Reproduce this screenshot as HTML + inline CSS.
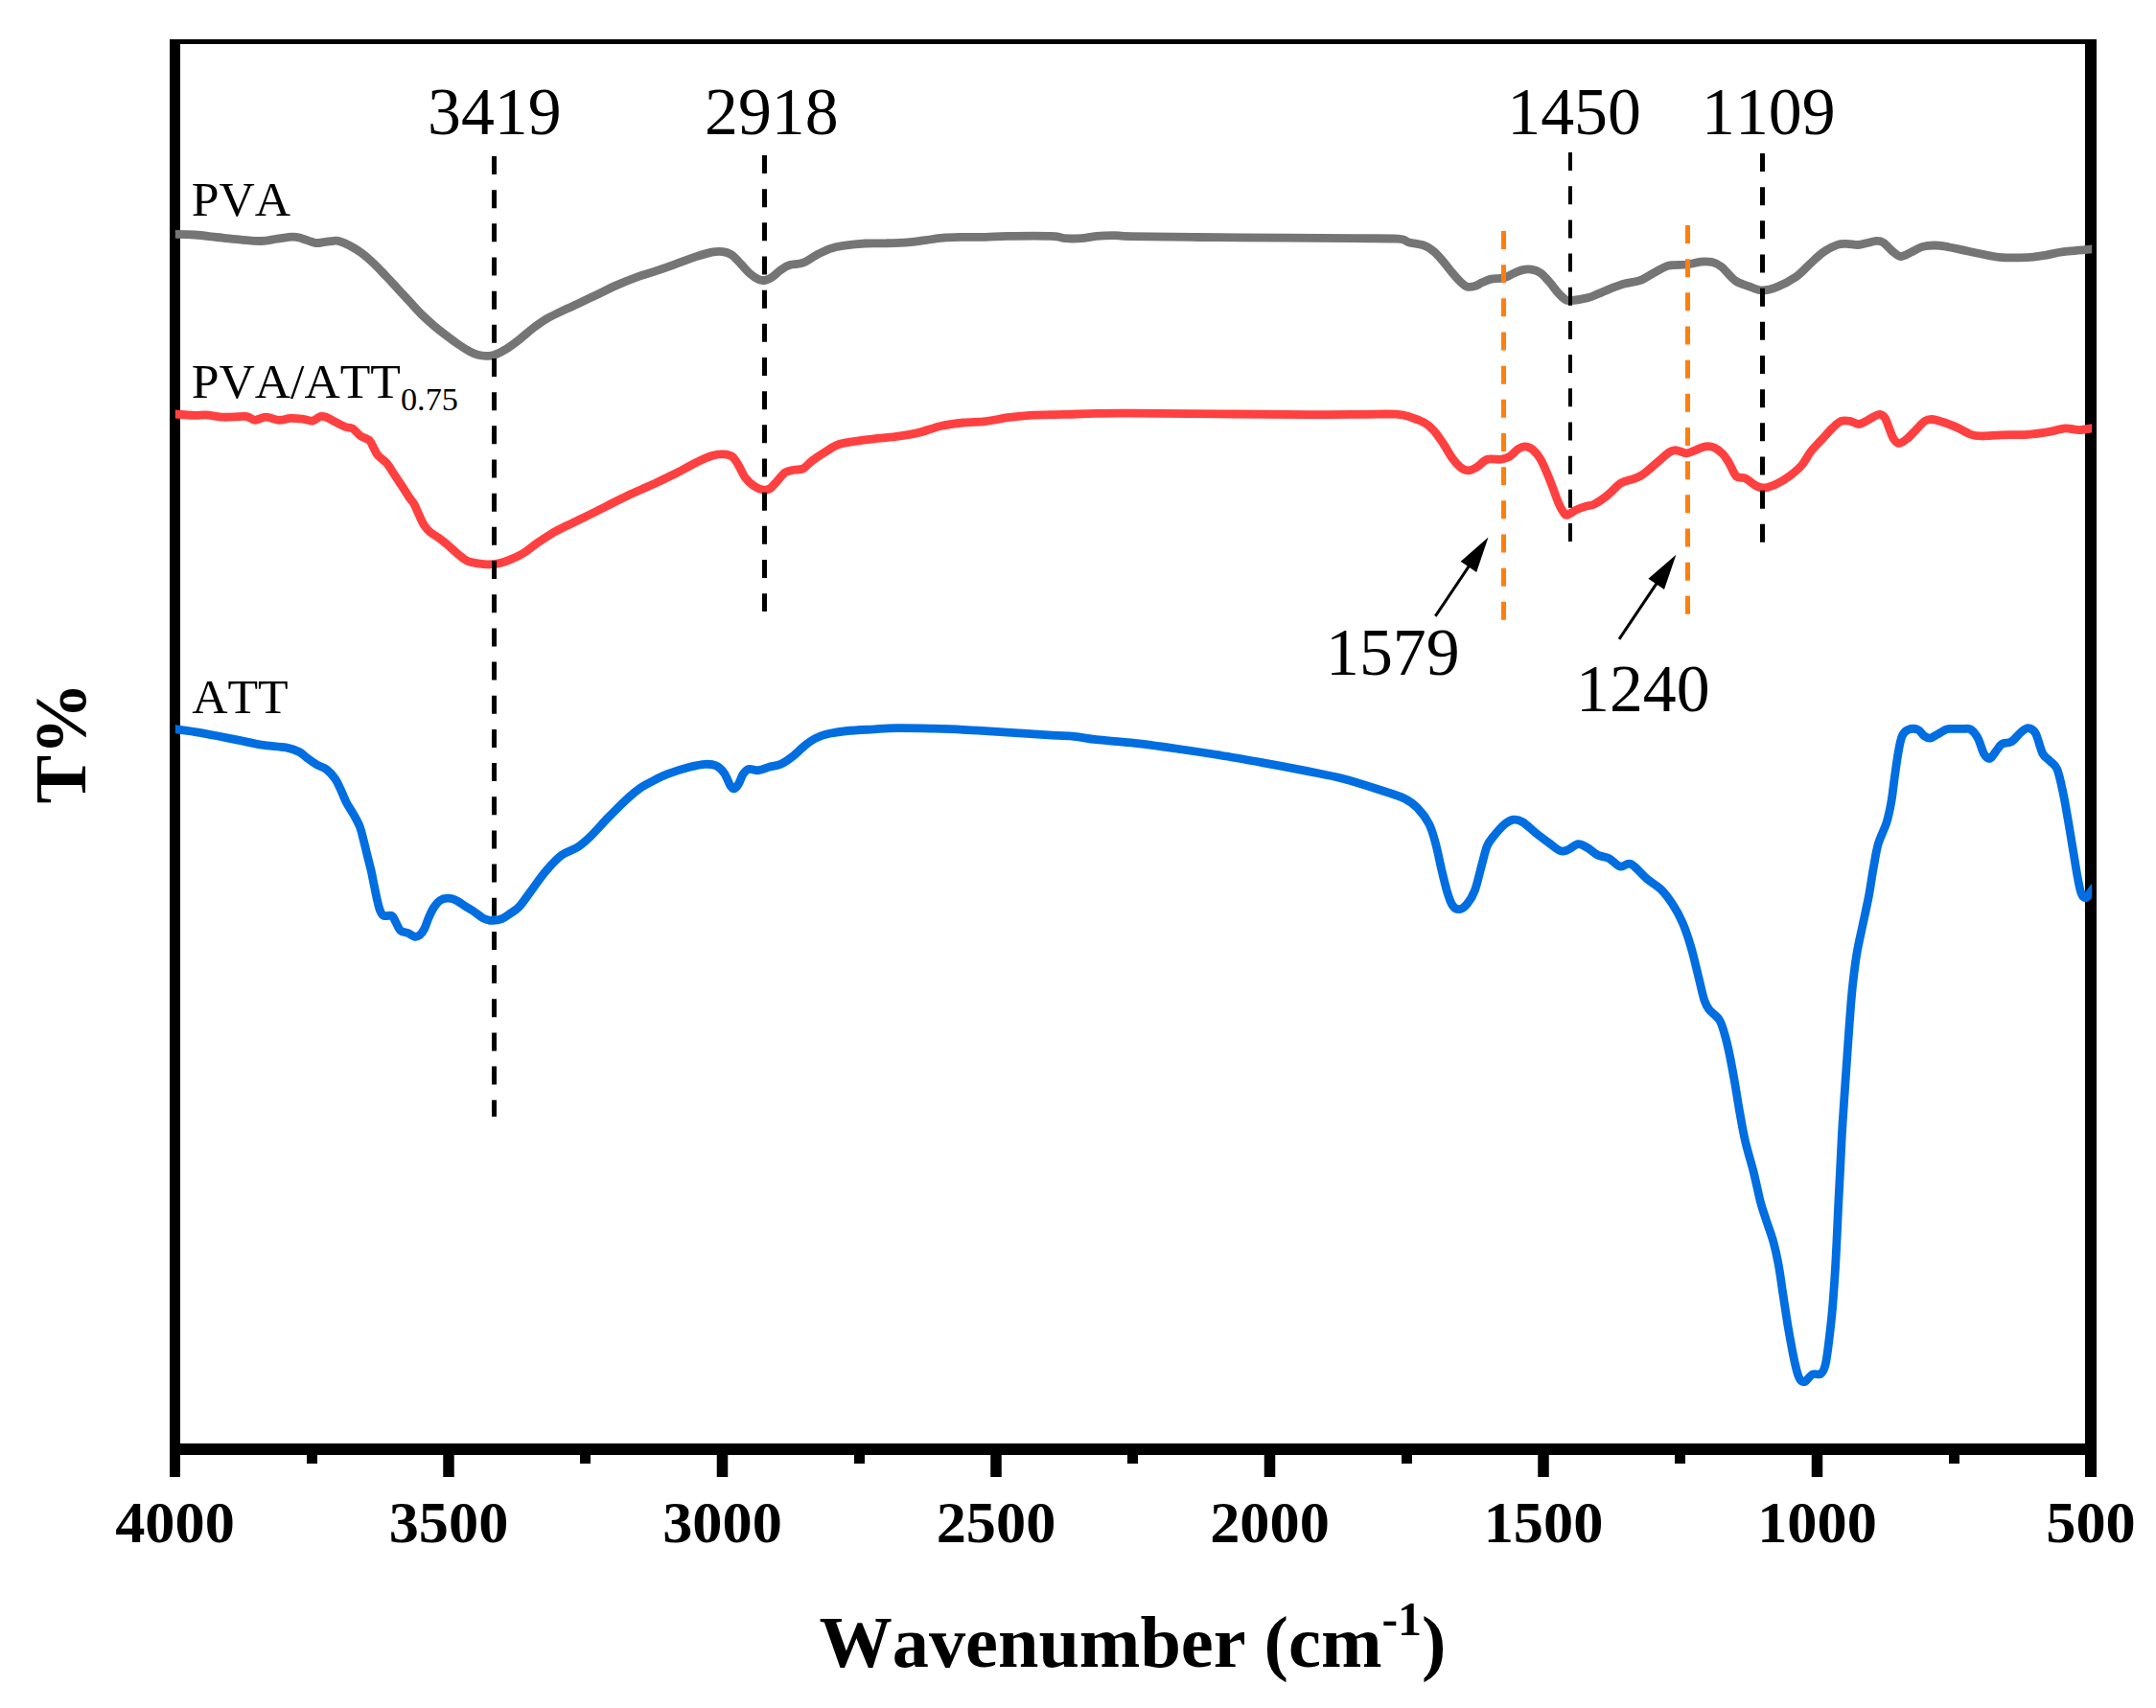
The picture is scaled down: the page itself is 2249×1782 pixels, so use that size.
<!DOCTYPE html>
<html><head><meta charset="utf-8"><title>FTIR</title>
<style>html,body{margin:0;padding:0;background:#fff}svg{display:block}text{font-family:"Liberation Serif",serif;fill:#000;font-kerning:none}.b{font-weight:bold}</style></head><body>
<svg width="2249" height="1782" viewBox="0 0 2249 1782">
<rect width="2249" height="1782" fill="#fff"/>
<g fill="#000">
<rect x="177" y="41" width="11" height="1500"/>
<rect x="2175" y="41" width="12" height="1500"/>
<rect x="177" y="41" width="2010" height="5"/>
<rect x="177" y="1506" width="2010" height="12"/>
<rect x="462.25" y="1512" width="11.5" height="29"/>
<rect x="747.75" y="1512" width="11.5" height="29"/>
<rect x="1033.25" y="1512" width="11.5" height="29"/>
<rect x="1318.75" y="1512" width="11.5" height="29"/>
<rect x="1604.25" y="1512" width="11.5" height="29"/>
<rect x="1889.75" y="1512" width="11.5" height="29"/>
<rect x="320" y="1512" width="11" height="15"/>
<rect x="605" y="1512" width="11" height="15"/>
<rect x="891" y="1512" width="11" height="15"/>
<rect x="1176" y="1512" width="11" height="15"/>
<rect x="1462" y="1512" width="11" height="15"/>
<rect x="1747" y="1512" width="11" height="15"/>
<rect x="2033" y="1512" width="11" height="15"/>
</g>
<text class="b" x="182.5" y="1608.5" font-size="62.3" text-anchor="middle">4000</text>
<text class="b" x="468.0" y="1608.5" font-size="62.3" text-anchor="middle">3500</text>
<text class="b" x="753.5" y="1608.5" font-size="62.3" text-anchor="middle">3000</text>
<text class="b" x="1039.0" y="1608.5" font-size="62.3" text-anchor="middle">2500</text>
<text class="b" x="1324.5" y="1608.5" font-size="62.3" text-anchor="middle">2000</text>
<text class="b" x="1610.0" y="1608.5" font-size="62.3" text-anchor="middle">1500</text>
<text class="b" x="1895.5" y="1608.5" font-size="62.3" text-anchor="middle">1000</text>
<text class="b" x="2181.0" y="1608.5" font-size="62.3" text-anchor="middle">500</text>
<text class="b" x="854.5" y="1738.5" font-size="76.3" id="xt">Wavenumber (cm<tspan font-size="50" dy="-33">-1</tspan><tspan dy="33">)</tspan></text>
<text class="b" transform="translate(88.9,838.5) rotate(-90)" font-size="76" id="yt">T%</text>
<defs><clipPath id="cp"><rect x="182.8" y="0" width="1999.4" height="1782"/></clipPath></defs>
<g fill="none" stroke-linejoin="round" stroke-linecap="butt">
<path clip-path="url(#cp)" d="M178.0 244.4C182.2 244.5 195.1 244.5 203.2 245.0C211.3 245.5 218.7 246.7 226.4 247.5C234.1 248.3 241.9 249.2 249.6 249.9C257.3 250.6 266.2 251.6 272.8 251.5C279.4 251.4 283.6 249.9 289.0 249.2C294.4 248.5 300.9 247.2 305.2 247.1C309.4 247.0 310.6 247.7 314.5 248.7C318.4 249.7 324.5 252.7 328.4 253.3C332.3 254.0 334.4 252.9 337.7 252.6C341.0 252.3 345.6 251.5 348.3 251.3C351.1 251.2 351.4 250.9 354.2 251.7C357.0 252.5 361.1 254.2 365.0 256.3C368.9 258.4 373.4 261.1 377.6 264.2C381.8 267.3 385.9 271.1 390.1 275.1C394.3 279.1 398.4 283.6 402.6 288.0C406.8 292.4 410.9 296.9 415.1 301.4C419.3 305.9 423.5 310.6 427.7 315.1C431.9 319.6 436.0 324.4 440.2 328.5C444.4 332.6 448.5 336.2 452.7 339.8C456.9 343.4 461.0 346.6 465.2 349.8C469.4 353.0 473.5 356.1 477.7 359.0C481.9 361.9 486.8 365.0 490.3 366.9C493.8 368.8 495.8 369.5 498.6 370.2C501.4 370.9 504.2 371.2 507.0 371.3C509.8 371.4 511.8 371.7 515.3 370.5C518.8 369.3 523.5 366.9 527.9 364.2C532.3 361.5 537.2 357.8 541.8 354.2C546.4 350.6 551.1 346.2 555.7 342.6C560.3 339.1 565.0 335.7 569.6 332.9C574.2 330.1 578.9 328.1 583.5 325.9C588.1 323.6 591.2 322.3 597.4 319.4C603.6 316.5 612.9 312.2 620.6 308.5C628.3 304.8 636.1 300.8 643.8 297.4C651.5 294.0 661.0 290.3 667.0 288.1C673.0 285.9 674.0 286.2 680.0 284.2C686.0 282.2 695.5 278.9 703.2 276.1C710.9 273.4 719.8 269.9 726.4 267.7C733.0 265.5 738.0 264.0 742.6 263.1C747.2 262.2 750.7 262.1 754.2 262.6C757.7 263.1 760.4 264.0 763.5 266.1C766.6 268.2 769.7 272.2 772.8 275.4C775.9 278.6 778.9 282.6 782.0 285.3C785.1 288.0 788.6 290.4 791.3 291.6C794.0 292.8 796.0 292.7 798.3 292.3C800.6 291.9 802.5 291.1 805.2 289.3C807.9 287.5 811.4 283.7 814.5 281.6C817.6 279.5 819.9 277.7 823.8 276.5C827.7 275.3 833.1 275.9 837.7 274.2C842.3 272.5 847.0 268.5 851.6 266.1C856.2 263.7 860.9 261.2 865.5 259.6C870.1 258.0 873.2 257.3 879.4 256.4C885.6 255.5 895.2 254.4 902.6 254.0C910.0 253.6 916.1 254.0 923.5 253.8C930.9 253.6 939.7 253.4 946.7 252.9C953.7 252.4 959.1 251.4 965.3 250.6C971.5 249.8 977.2 248.8 983.8 248.2C990.4 247.6 997.4 247.5 1004.7 247.3C1012.1 247.2 1020.2 247.5 1027.9 247.3C1035.6 247.2 1039.4 246.6 1051.0 246.4C1062.6 246.2 1087.3 246.0 1097.4 246.4C1107.5 246.8 1106.4 248.3 1111.4 248.7C1116.4 249.1 1122.2 249.1 1127.6 248.7C1133.0 248.3 1138.0 246.9 1143.8 246.4C1149.6 245.9 1156.4 245.7 1162.4 245.7C1168.4 245.7 1165.5 246.3 1180.0 246.6C1194.5 246.9 1222.5 247.2 1249.6 247.5C1276.6 247.8 1315.2 248.0 1342.3 248.2C1369.3 248.4 1392.6 248.5 1411.9 248.7C1431.2 248.9 1448.6 248.5 1458.3 249.2C1468.0 249.9 1465.3 251.7 1469.9 252.9C1474.5 254.1 1481.8 254.8 1486.1 256.4C1490.3 257.9 1492.3 259.6 1495.4 262.2C1498.5 264.8 1501.6 268.3 1504.7 271.9C1507.8 275.4 1510.9 279.8 1514.0 283.5C1517.1 287.2 1520.5 291.3 1523.2 293.9C1525.9 296.5 1527.7 298.2 1530.2 299.0C1532.7 299.8 1535.6 299.3 1538.3 298.6C1541.0 297.9 1543.5 295.9 1546.4 294.6C1549.3 293.4 1552.0 291.9 1555.7 291.1C1559.4 290.3 1564.6 291.0 1568.5 290.0C1572.4 289.0 1575.6 286.7 1578.9 285.3C1582.2 283.9 1585.1 282.3 1588.2 281.6C1591.3 280.9 1594.3 280.7 1597.4 281.2C1600.5 281.7 1603.6 282.5 1606.7 284.6C1609.8 286.7 1612.9 290.4 1616.0 293.9C1619.1 297.4 1622.6 302.5 1625.3 305.5C1628.0 308.5 1630.1 310.6 1632.2 312.0C1634.3 313.4 1634.1 313.8 1638.0 313.6C1641.9 313.4 1650.6 312.0 1655.4 310.9C1660.2 309.8 1662.9 308.3 1667.0 306.7C1671.1 305.1 1675.4 302.9 1680.0 301.1C1684.6 299.3 1689.3 297.4 1694.5 296.0C1699.7 294.6 1706.2 294.3 1711.4 292.4C1716.6 290.5 1721.0 286.9 1725.8 284.4C1730.6 281.9 1734.7 278.6 1740.3 277.2C1745.9 275.8 1754.0 276.7 1759.6 276.0C1765.2 275.3 1769.7 273.5 1774.1 273.1C1778.5 272.7 1782.5 272.7 1786.1 273.6C1789.7 274.5 1791.8 275.2 1795.8 278.4C1799.8 281.6 1805.4 289.5 1810.2 292.9C1815.0 296.3 1820.1 297.2 1824.7 298.9C1829.3 300.6 1833.2 302.9 1838.0 303.0C1842.8 303.1 1847.9 301.7 1853.7 299.4C1859.5 297.1 1867.4 293.1 1873.0 289.2C1878.6 285.3 1882.6 280.3 1887.4 276.0C1892.2 271.7 1897.1 266.6 1901.9 263.2C1906.7 259.8 1912.4 257.0 1916.4 255.5C1920.4 254.0 1922.4 254.3 1926.0 254.3C1929.6 254.3 1934.5 255.6 1938.1 255.5C1941.7 255.4 1944.5 254.2 1947.7 253.5C1950.9 252.8 1954.6 251.5 1957.4 251.4C1960.2 251.3 1961.8 251.3 1964.6 253.1C1967.4 254.9 1971.2 259.8 1974.2 262.2C1977.2 264.6 1979.5 267.3 1982.7 267.5C1985.9 267.7 1989.7 264.9 1993.5 263.2C1997.3 261.5 2001.6 258.6 2005.6 257.4C2009.6 256.2 2013.7 256.0 2017.7 256.0C2021.7 256.0 2023.7 256.2 2029.7 257.2C2035.7 258.2 2044.6 260.3 2053.8 262.2C2063.1 264.1 2075.1 267.2 2085.2 268.3C2095.2 269.4 2106.1 269.0 2114.1 268.7C2122.1 268.4 2127.0 267.3 2133.4 266.3C2139.8 265.3 2143.8 263.8 2152.7 262.7C2161.6 261.6 2181.3 260.0 2187.0 259.5" stroke="#757575" stroke-width="8.8"/>
<path clip-path="url(#cp)" d="M178.0 431.7C182.2 432.0 197.1 433.1 203.2 433.3C209.3 433.5 209.8 432.6 214.8 432.9C219.8 433.2 226.4 434.9 233.3 435.2C240.2 435.5 251.1 434.0 256.5 434.5C261.9 435.0 262.3 438.3 265.8 438.4C269.3 438.5 273.1 435.2 277.4 435.2C281.6 435.2 287.1 438.2 291.3 438.4C295.6 438.6 298.6 436.6 302.9 436.4C307.1 436.2 312.9 436.9 316.8 437.3C320.7 437.8 323.2 439.6 326.1 439.1C329.0 438.6 331.9 435.1 334.2 434.5C336.5 433.9 337.3 434.2 340.0 435.2C342.7 436.2 346.8 438.7 350.2 440.4C353.6 442.1 357.6 444.4 360.5 445.5C363.4 446.6 365.1 445.5 367.7 447.0C370.3 448.5 373.0 452.6 375.9 454.7C378.8 456.8 382.7 457.1 385.1 459.3C387.5 461.5 388.7 465.4 390.2 468.0C391.7 470.6 392.1 472.6 394.3 475.2C396.5 477.8 400.6 480.0 403.5 483.4C406.4 486.8 409.0 491.6 411.7 495.7C414.4 499.8 417.3 504.1 419.9 508.0C422.5 511.9 425.1 516.2 427.1 519.3C429.2 522.4 430.5 523.3 432.2 526.4C433.9 529.5 435.6 534.1 437.3 537.7C439.0 541.3 440.5 545.0 442.4 547.9C444.3 550.8 446.0 552.9 448.6 555.1C451.2 557.3 454.6 558.9 457.8 561.3C461.1 563.7 464.7 566.6 468.1 569.5C471.5 572.4 475.1 576.1 478.3 578.7C481.5 581.3 484.1 583.8 487.5 585.3C490.9 586.8 495.2 587.3 498.8 587.9C502.4 588.5 505.5 588.9 509.0 588.9C512.5 588.9 516.7 588.5 520.0 587.9C523.3 587.3 525.0 586.8 529.0 585.2C533.0 583.6 538.9 581.4 544.1 578.3C549.3 575.2 555.3 570.2 560.3 566.7C565.3 563.2 569.3 560.4 574.3 557.4C579.3 554.4 584.7 551.7 590.5 548.8C596.3 545.9 602.0 543.4 609.0 540.0C616.0 536.6 624.5 532.3 632.2 528.4C639.9 524.5 647.4 520.6 655.4 516.8C663.4 513.0 672.0 509.5 680.0 505.8C688.0 502.1 695.5 498.7 703.2 494.8C710.9 490.9 719.8 485.7 726.4 482.5C733.0 479.3 738.0 476.9 742.6 475.5C747.2 474.1 750.7 473.8 754.2 473.9C757.7 474.0 760.8 474.3 763.5 476.2C766.2 478.1 768.1 481.8 770.4 485.5C772.7 489.2 774.7 494.7 777.4 498.3C780.1 501.9 783.6 505.0 786.7 507.1C789.8 509.2 793.3 510.5 796.0 511.0C798.7 511.5 800.6 511.2 802.9 509.9C805.2 508.5 807.2 505.7 809.9 502.9C812.6 500.1 816.0 495.0 819.1 492.9C822.2 490.8 825.3 490.8 828.4 490.2C831.5 489.6 834.6 490.6 837.7 489.0C840.8 487.4 843.1 483.8 847.0 480.9C850.9 478.0 856.6 474.3 860.9 471.6C865.1 468.9 868.6 466.3 872.5 464.6C876.4 462.9 878.3 462.6 884.1 461.6C889.9 460.6 898.8 459.4 907.3 458.4C915.8 457.4 926.6 456.6 935.1 455.4C943.6 454.2 950.6 453.2 958.3 451.4C966.0 449.6 973.8 446.2 981.5 444.5C989.2 442.8 997.0 441.8 1004.7 441.0C1012.4 440.2 1020.2 440.5 1027.9 439.6C1035.6 438.7 1043.3 436.8 1051.0 435.7C1058.7 434.6 1064.5 433.9 1074.2 433.3C1083.9 432.8 1097.4 432.7 1109.0 432.4C1120.6 432.1 1132.0 431.6 1143.8 431.4C1155.6 431.2 1156.3 431.1 1180.0 431.2C1203.7 431.3 1255.1 431.8 1286.0 432.0C1316.9 432.2 1343.2 432.5 1365.5 432.6C1387.8 432.7 1404.8 432.5 1420.0 432.4C1435.2 432.3 1447.7 431.6 1456.5 432.2C1465.3 432.8 1467.8 434.1 1472.8 435.7C1477.8 437.2 1482.8 439.2 1486.7 441.5C1490.6 443.8 1492.9 446.1 1496.0 449.6C1499.1 453.1 1502.1 457.7 1505.2 462.3C1508.3 466.9 1511.4 473.1 1514.5 477.4C1517.6 481.6 1520.9 485.6 1523.8 487.8C1526.7 490.1 1529.2 490.9 1531.9 490.9C1534.6 490.9 1536.7 489.7 1540.0 487.8C1543.3 485.9 1547.3 480.7 1551.6 479.3C1555.8 477.9 1561.6 479.8 1565.5 479.3C1569.4 478.8 1571.7 478.1 1574.8 476.2C1577.9 474.3 1581.4 469.8 1584.1 468.1C1586.8 466.4 1588.5 465.6 1591.0 465.8C1593.5 466.0 1596.5 467.0 1599.2 469.3C1601.9 471.6 1604.4 474.5 1607.3 479.7C1610.2 484.9 1613.5 493.1 1616.6 500.6C1619.7 508.1 1623.3 519.1 1625.8 524.9C1628.3 530.7 1630.0 533.3 1631.6 535.4C1633.1 537.5 1633.0 537.8 1635.1 537.2C1637.2 536.6 1641.3 533.4 1644.4 531.9C1647.5 530.4 1650.6 529.4 1653.7 528.4C1656.8 527.4 1659.1 528.0 1662.9 526.1C1666.8 524.2 1672.2 520.5 1676.8 516.8C1681.4 513.1 1686.1 507.0 1690.8 504.1C1695.5 501.2 1700.8 500.9 1704.7 499.4C1708.6 497.8 1710.0 497.5 1713.9 494.8C1717.8 492.1 1723.2 487.1 1727.9 483.2C1732.6 479.3 1738.3 473.8 1741.8 471.6C1745.3 469.4 1745.8 469.6 1748.7 469.8C1751.6 470.0 1755.7 472.9 1759.2 472.8C1762.7 472.7 1766.3 470.5 1769.6 469.3C1772.9 468.1 1775.8 466.2 1778.9 465.8C1782.0 465.4 1785.1 465.6 1788.2 467.0C1791.3 468.4 1794.7 471.0 1797.4 473.9C1800.1 476.8 1802.1 480.5 1804.4 484.4C1806.7 488.3 1808.7 494.7 1811.4 497.1C1814.1 499.5 1817.5 497.5 1820.6 498.9C1823.7 500.3 1826.8 504.0 1829.9 505.7C1833.0 507.4 1835.4 509.1 1839.2 509.0C1843.0 508.9 1847.9 507.3 1852.5 505.2C1857.1 503.1 1862.5 499.9 1867.0 496.5C1871.5 493.1 1876.1 489.3 1879.8 485.0C1883.5 480.7 1885.7 475.3 1889.1 470.9C1892.5 466.5 1896.5 462.8 1900.2 458.8C1903.9 454.8 1907.9 450.0 1911.3 446.8C1914.7 443.6 1917.5 440.6 1920.6 439.4C1923.7 438.2 1926.8 438.9 1929.9 439.4C1933.0 439.9 1936.0 442.7 1939.1 442.5C1942.2 442.3 1945.0 440.1 1948.4 438.4C1951.8 436.7 1956.7 432.9 1959.6 432.5C1962.5 432.1 1964.2 433.3 1966.0 435.7C1967.8 438.1 1969.2 443.1 1970.7 446.8C1972.2 450.5 1973.6 455.3 1975.3 457.9C1977.0 460.5 1978.6 462.6 1980.9 462.6C1983.2 462.6 1986.3 460.2 1989.2 457.9C1992.1 455.6 1995.4 451.7 1998.5 448.6C2001.6 445.5 2005.0 441.2 2007.8 439.4C2010.6 437.5 2012.1 437.4 2015.2 437.5C2018.3 437.6 2022.0 438.9 2026.3 440.3C2030.6 441.7 2036.2 443.7 2041.2 445.9C2046.2 448.1 2051.7 451.8 2056.0 453.3C2060.3 454.8 2061.9 454.7 2067.2 454.8C2072.5 454.9 2079.6 454.1 2087.6 453.8C2095.6 453.6 2106.8 453.9 2115.4 453.3C2124.1 452.7 2133.0 451.2 2139.5 450.1C2146.0 449.0 2149.5 447.1 2154.4 446.8C2159.3 446.6 2163.8 448.7 2169.2 448.6C2174.6 448.5 2184.0 446.4 2187.0 446.0" stroke="#FF4040" stroke-width="8.8"/>
<line x1="797.5" y1="162.0" x2="797.5" y2="638.0" stroke="#000" stroke-width="5" stroke-dasharray="19 16.17"/>
<line x1="1638.0" y1="159.1" x2="1638.0" y2="565.0" stroke="#000" stroke-width="4" stroke-dasharray="19 16.17"/>
<line x1="1838.5" y1="160.0" x2="1838.5" y2="566.0" stroke="#000" stroke-width="5" stroke-dasharray="19 16.17"/>
<line x1="1568.5" y1="241.0" x2="1568.5" y2="647.0" stroke="#FF7F0E" stroke-width="5" stroke-dasharray="19 16.17"/>
<line x1="1760.5" y1="235.0" x2="1760.5" y2="641.0" stroke="#FF7F0E" stroke-width="5" stroke-dasharray="19 16.17"/>
<line x1="515.5" y1="163.0" x2="515.5" y2="1165.0" stroke="#000" stroke-width="5" stroke-dasharray="19 16.17"/>
<path clip-path="url(#cp)" d="M178.0 760.0C182.2 760.6 195.1 762.3 203.2 763.6C211.3 764.9 218.7 766.3 226.4 767.8C234.1 769.3 241.9 770.8 249.6 772.4C257.3 774.0 264.7 775.9 272.8 777.1C280.9 778.4 291.7 778.7 298.3 779.9C304.9 781.1 308.6 782.7 312.2 784.5C315.8 786.3 317.0 788.4 320.0 790.6C323.0 792.8 326.9 795.7 330.3 797.7C333.7 799.7 337.4 800.3 340.6 802.8C343.8 805.3 347.0 808.7 349.6 812.5C352.2 816.3 354.2 821.3 356.1 825.4C358.0 829.5 359.1 832.9 361.2 837.0C363.3 841.1 366.5 845.6 368.9 849.9C371.3 854.2 373.7 858.2 375.4 862.7C377.1 867.2 378.0 872.0 379.3 876.9C380.6 881.8 381.8 887.2 383.1 892.4C384.4 897.5 385.8 902.6 387.0 907.8C388.2 912.9 389.1 918.1 390.2 923.3C391.3 928.4 392.3 934.2 393.4 938.7C394.5 943.2 395.4 947.5 396.6 950.3C397.8 953.1 398.4 954.6 400.5 955.5C402.6 956.4 406.9 954.4 408.9 955.5C410.9 956.6 411.2 959.3 412.7 961.9C414.2 964.5 415.8 969.0 417.9 970.9C420.0 972.8 423.2 972.5 425.6 973.5C428.0 974.5 430.2 976.7 432.1 977.1C434.0 977.5 435.5 977.4 437.2 976.1C438.9 974.9 440.7 972.8 442.4 969.6C444.1 966.4 445.8 960.6 447.5 956.8C449.2 952.9 450.8 949.4 452.7 946.5C454.6 943.6 456.8 940.9 459.1 939.4C461.5 937.9 464.2 937.3 466.8 937.2C469.4 937.1 471.6 937.4 474.6 938.7C477.6 940.0 481.5 943.1 484.9 945.2C488.3 947.4 492.0 949.5 495.2 951.6C498.4 953.8 501.2 956.6 504.2 958.1C507.2 959.6 510.0 960.3 513.2 960.4C516.4 960.5 520.3 960.0 523.5 958.7C526.7 957.5 529.5 955.0 532.5 952.9C535.5 950.8 537.9 950.1 541.8 945.8C545.7 941.5 551.1 933.3 555.7 927.1C560.3 920.9 564.6 914.4 569.6 908.6C574.6 902.8 580.4 896.4 585.8 892.3C591.2 888.2 597.1 887.5 602.1 884.2C607.1 880.9 610.6 877.8 616.0 872.6C621.4 867.4 628.3 859.3 634.5 852.9C640.7 846.5 647.7 839.4 653.1 834.4C658.5 829.4 662.5 826.0 667.0 822.8C671.5 819.6 675.1 817.8 680.0 815.3C684.9 812.8 689.6 810.2 696.2 807.7C702.8 805.2 712.8 802.0 719.4 800.3C726.0 798.6 731.1 797.5 735.7 797.3C740.4 797.1 744.0 797.6 747.3 799.1C750.6 800.6 752.9 803.0 755.4 806.5C757.9 810.0 760.5 817.7 762.3 820.4C764.1 823.1 764.9 823.2 766.3 822.8C767.6 822.4 768.9 820.6 770.4 818.1C771.9 815.6 773.4 810.3 775.1 807.7C776.9 805.1 778.2 803.1 780.9 802.4C783.6 801.7 787.6 804.1 791.3 803.7C795.0 803.3 799.0 801.1 802.9 800.0C806.8 798.9 810.6 799.0 814.5 797.3C818.4 795.6 821.9 793.1 826.1 789.8C830.4 786.5 835.8 780.8 840.0 777.5C844.2 774.2 847.4 771.9 851.6 769.9C855.9 767.9 860.1 766.5 865.5 765.3C870.9 764.1 876.4 763.2 884.1 762.5C891.8 761.8 903.4 761.3 911.9 760.8C920.4 760.3 925.4 759.8 935.1 759.7C944.8 759.6 958.3 759.8 969.9 760.1C981.5 760.4 991.2 760.6 1004.7 761.3C1018.2 762.0 1035.5 763.1 1051.0 764.1C1066.5 765.1 1085.8 766.4 1097.4 767.1C1109.0 767.8 1112.9 767.5 1120.6 768.3C1128.3 769.1 1133.9 770.6 1143.8 771.7C1153.7 772.8 1166.2 773.4 1180.0 774.9C1193.8 776.4 1210.9 778.8 1226.4 781.0C1241.9 783.2 1257.3 785.5 1272.8 788.0C1288.2 790.5 1303.6 793.3 1319.1 796.1C1334.5 798.9 1352.0 802.2 1365.5 804.9C1379.0 807.6 1388.7 809.3 1400.3 812.3C1411.9 815.3 1424.3 819.3 1435.1 822.8C1445.9 826.3 1457.9 829.7 1465.3 833.2C1472.7 836.7 1475.0 839.2 1479.2 843.6C1483.5 848.0 1487.7 853.7 1490.8 859.9C1493.9 866.1 1495.6 873.0 1497.7 880.7C1499.8 888.4 1501.6 898.2 1503.5 906.3C1505.4 914.4 1507.4 923.0 1509.3 929.4C1511.2 935.8 1513.0 941.3 1515.1 944.5C1517.2 947.7 1519.6 948.9 1522.1 948.7C1524.6 948.5 1527.5 946.6 1530.2 943.4C1532.9 940.2 1535.8 936.0 1538.3 929.4C1540.8 922.8 1543.2 911.6 1545.3 903.9C1547.4 896.2 1549.0 888.3 1551.1 883.1C1553.2 877.9 1554.9 876.5 1558.0 872.6C1561.1 868.7 1566.1 862.8 1569.6 859.9C1573.1 857.0 1575.8 855.6 1578.9 855.2C1582.0 854.8 1584.3 855.3 1588.2 857.6C1592.1 859.9 1597.5 865.4 1602.1 869.1C1606.7 872.8 1611.8 876.5 1616.0 879.6C1620.2 882.7 1624.3 886.6 1627.6 887.7C1630.9 888.9 1632.6 887.7 1635.7 886.5C1638.8 885.3 1642.8 881.1 1646.1 880.7C1649.4 880.3 1651.9 882.3 1655.4 884.2C1658.9 886.1 1663.2 890.4 1667.0 892.3C1670.8 894.2 1674.7 893.6 1678.5 895.6C1682.3 897.6 1686.3 903.1 1690.1 904.1C1693.9 905.1 1696.7 899.5 1701.3 901.6C1705.9 903.7 1712.4 912.2 1717.6 916.6C1722.8 921.0 1728.0 923.3 1732.6 927.9C1737.2 932.5 1741.4 938.3 1745.2 944.1C1749.0 949.9 1752.1 955.6 1755.2 962.9C1758.3 970.2 1761.2 978.8 1763.9 988.0C1766.6 997.2 1769.2 1008.8 1771.5 1018.0C1773.8 1027.2 1775.8 1037.2 1777.7 1043.1C1779.6 1048.9 1780.1 1049.6 1782.7 1053.1C1785.3 1056.6 1790.7 1059.5 1793.5 1064.0C1796.3 1068.5 1797.5 1073.8 1799.3 1080.0C1801.1 1086.2 1802.6 1092.8 1804.3 1101.0C1806.0 1109.2 1807.8 1119.3 1809.5 1128.9C1811.2 1138.5 1812.6 1148.2 1814.4 1158.4C1816.2 1168.7 1818.0 1179.8 1820.5 1190.4C1823.0 1201.1 1826.4 1211.7 1829.1 1222.3C1831.8 1232.9 1834.2 1245.7 1836.5 1254.3C1838.8 1262.9 1840.5 1267.0 1842.7 1274.0C1845.0 1281.0 1848.0 1288.7 1850.0 1296.1C1852.0 1303.5 1853.3 1309.3 1855.0 1318.3C1856.7 1327.3 1858.3 1339.5 1859.9 1350.2C1861.5 1360.9 1863.2 1372.4 1864.8 1382.2C1866.4 1392.0 1868.1 1401.1 1869.7 1409.3C1871.3 1417.5 1873.2 1426.3 1874.6 1431.4C1876.0 1436.5 1876.9 1438.4 1878.3 1440.0C1879.7 1441.6 1881.2 1442.2 1883.2 1441.2C1885.2 1440.2 1887.9 1435.2 1890.6 1433.9C1893.3 1432.6 1897.0 1435.1 1899.2 1433.4C1901.5 1431.8 1902.7 1429.7 1904.1 1424.0C1905.5 1418.3 1906.6 1409.2 1907.8 1399.4C1909.0 1389.6 1910.5 1376.5 1911.5 1365.0C1912.5 1353.5 1913.2 1342.5 1914.0 1330.6C1914.8 1318.7 1915.4 1306.0 1916.0 1293.7C1916.6 1281.4 1917.1 1269.1 1917.7 1256.8C1918.3 1244.5 1919.0 1232.2 1919.6 1219.9C1920.2 1207.6 1920.7 1195.3 1921.4 1183.0C1922.1 1170.7 1923.0 1158.8 1923.8 1146.1C1924.6 1133.4 1925.6 1120.0 1926.5 1107.0C1927.4 1094.0 1928.2 1080.8 1929.2 1068.1C1930.2 1055.4 1931.0 1042.7 1932.3 1030.6C1933.6 1018.5 1935.0 1006.4 1936.8 995.5C1938.6 984.6 1940.9 975.4 1943.0 965.4C1945.1 955.4 1947.4 945.4 1949.3 935.4C1951.2 925.4 1952.6 914.5 1954.3 905.3C1956.0 896.1 1957.0 888.2 1959.3 880.3C1961.6 872.4 1965.8 865.2 1968.1 857.7C1970.4 850.2 1971.6 843.6 1973.1 835.2C1974.5 826.9 1975.5 816.4 1976.8 807.6C1978.0 798.8 1979.3 789.3 1980.6 782.6C1981.8 775.9 1982.6 771.2 1984.3 767.6C1986.0 764.0 1987.9 762.3 1990.6 761.3C1993.3 760.2 1997.9 760.2 2000.6 761.3C2003.3 762.3 2004.8 766.1 2006.9 767.6C2009.0 769.1 2010.9 770.3 2013.2 770.1C2015.5 769.9 2017.8 767.8 2020.7 766.3C2023.6 764.8 2027.8 761.8 2030.7 760.8C2033.6 759.8 2035.1 760.5 2038.0 760.4C2040.9 760.3 2045.0 760.3 2048.0 760.4C2050.9 760.5 2053.2 759.4 2055.7 761.0C2058.2 762.6 2060.9 765.9 2063.2 770.1C2065.5 774.3 2067.4 782.9 2069.5 786.4C2071.6 789.9 2073.7 791.8 2075.8 791.4C2077.9 791.0 2079.9 786.3 2082.0 783.8C2084.1 781.3 2085.6 778.0 2088.3 776.3C2091.0 774.6 2095.0 775.9 2098.3 773.8C2101.6 771.7 2105.4 766.2 2108.3 763.8C2111.2 761.4 2113.3 759.4 2115.8 759.6C2118.3 759.8 2120.9 760.6 2123.4 765.1C2125.9 769.6 2128.4 781.6 2130.9 786.4C2133.4 791.2 2135.9 791.2 2138.4 793.9C2140.9 796.6 2143.6 797.0 2145.9 802.6C2148.2 808.2 2150.3 818.9 2152.2 827.7C2154.1 836.5 2155.5 845.6 2157.2 855.2C2158.9 864.8 2160.5 875.3 2162.2 885.3C2163.9 895.3 2165.8 907.6 2167.2 915.3C2168.6 923.0 2169.5 928.0 2170.9 931.6C2172.3 935.2 2174.0 936.7 2175.5 936.8C2177.0 936.9 2178.1 934.2 2179.7 932.2C2181.3 930.2 2184.1 926.2 2185.0 925.0" stroke="#006EE0" stroke-width="8.8"/>
</g>
<line x1="1497.3" y1="642.9" x2="1533.0" y2="589.7" stroke="#000" stroke-width="3"/><polygon points="1552.5,560.6 1540.2,596.9 1523.6,585.8" fill="#000"/>
<line x1="1689.0" y1="666.8" x2="1728.8" y2="607.7" stroke="#000" stroke-width="3"/><polygon points="1748.4,578.7 1736.0,615.0 1719.4,603.8" fill="#000"/>
<text x="446" y="140.3" font-size="69.8" id="l3419">3419</text>
<text x="735" y="140.3" font-size="69.8" id="l2918">2918</text>
<text x="1572.3" y="140" font-size="69.8" id="l1450">1450</text>
<text x="1775" y="140" font-size="69.8" id="l1109">1109</text>
<text x="1383" y="704.3" font-size="69.8" id="l1579">1579</text>
<text x="1644" y="741.6" font-size="69.8" id="l1240">1240</text>
<text x="199.7" y="224.9" font-size="51.7" id="pva">PVA</text>
<text x="199.7" y="414.8" font-size="51.7" id="pvaatt">PVA/ATT<tspan font-size="34.3" dy="13.6">0.75</tspan></text>
<text x="200.2" y="744.2" font-size="51.7" id="att">ATT</text>
</svg></body></html>
